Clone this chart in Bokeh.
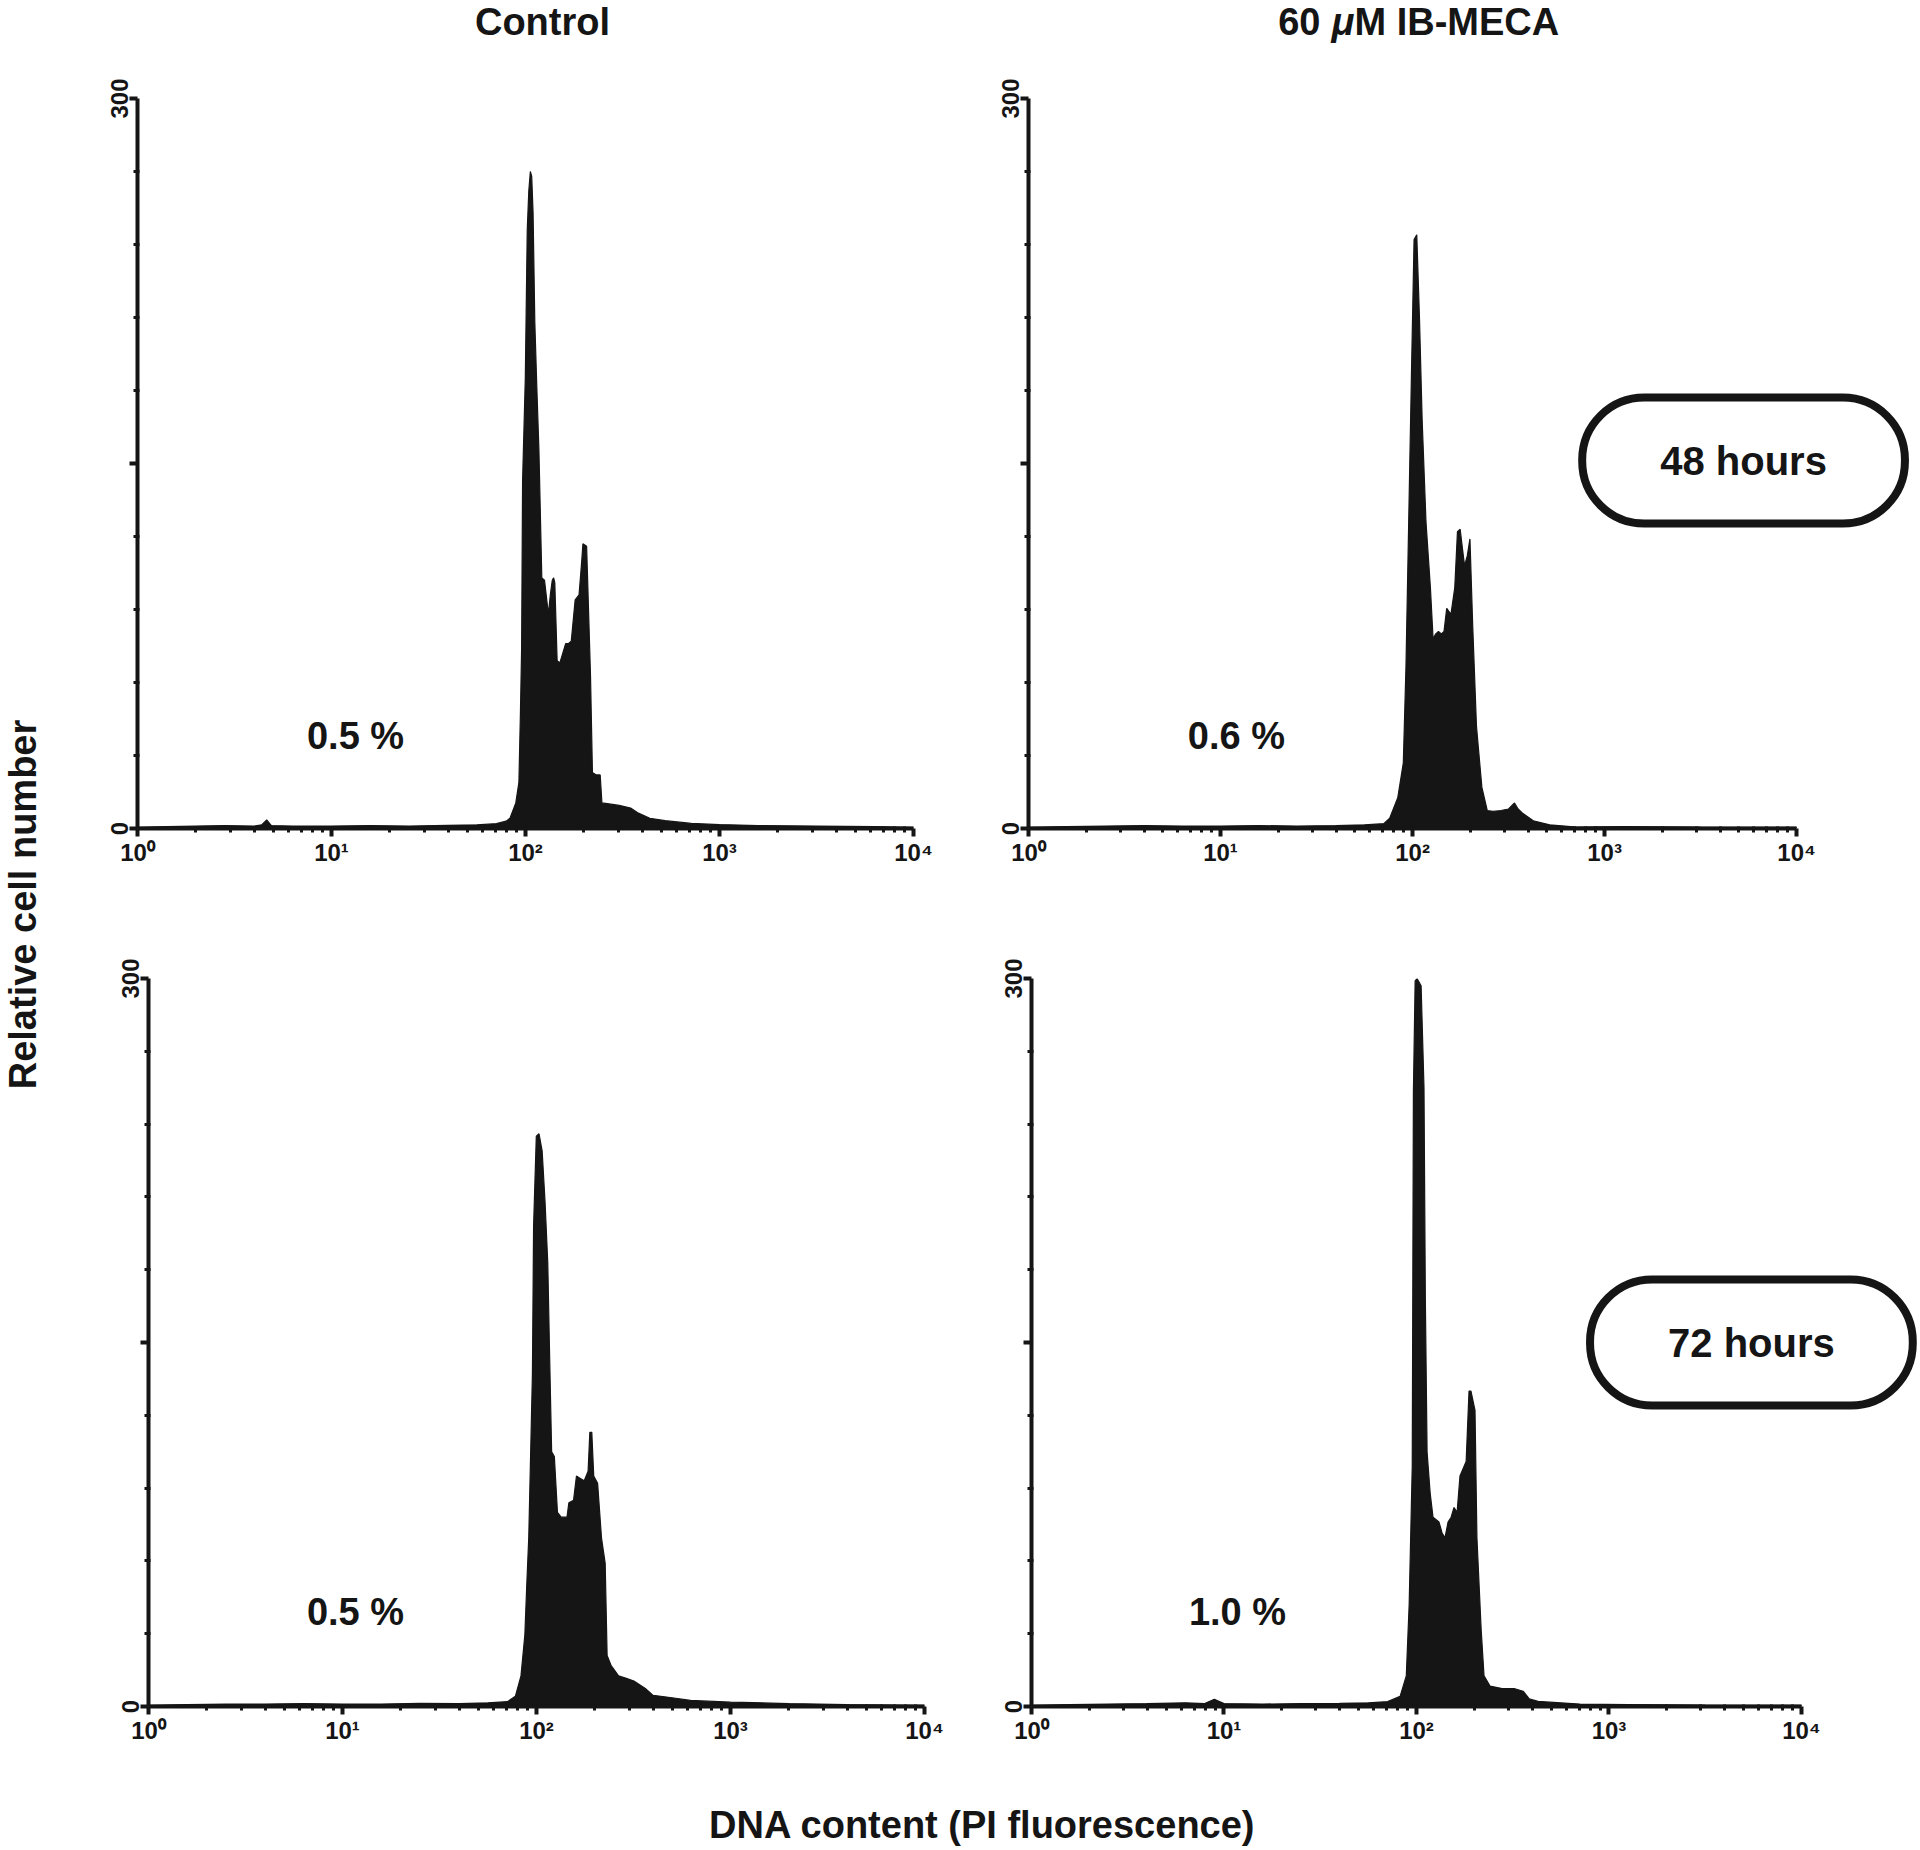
import math
from bokeh.plotting import figure
from bokeh.models import Range1d, FixedTicker, Label
from bokeh.layouts import row, column
from bokeh.embed import file_html
from bokeh.resources import INLINE

# ---------------- data ----------------
col_titles = ["Control", "60", "\u03bc", "M IB-MECA"]
time_labels = ["48 hours", "72 hours"]
pct_labels = ["0.5 %", "0.6 %", "0.5 %", "1.0 %"]
x_tick_labels = {1: "10\u2070", 10: "10\u00b9", 100: "10\u00b2", 1000: "10\u00b3", 10000: "10\u2074"}
y_tick_labels = {0: "0", 150: "", 300: "300"}
y_label = "Relative cell number"
x_label = "DNA content (PI fluorescence)"

# log10(PI fluorescence) positions and relative cell counts (0-300 scale)
tl_log = [0.00, 0.15, 0.30, 0.45, 0.60, 0.64, 0.666, 0.69, 0.80, 1.00, 1.20, 1.40, 1.60, 1.75, 1.85, 1.90,
          1.920, 1.950, 1.966, 1.974, 1.980, 1.985, 1.999, 2.009, 2.017, 2.025, 2.032, 2.039,
          2.048, 2.058, 2.069, 2.084, 2.098, 2.108, 2.118, 2.128, 2.138, 2.145, 2.151, 2.163,
          2.177, 2.192, 2.207, 2.222, 2.236, 2.256, 2.276, 2.290, 2.296, 2.315, 2.335, 2.345,
          2.365, 2.385, 2.394, 2.440, 2.483, 2.542, 2.582, 2.641, 2.720, 2.855, 3.00, 3.20,
          3.50, 3.80, 4.00]
tl_cnt = [0.5, 0.8, 1.0, 1.2, 1.0, 1.5, 3.5, 1.2, 1.0, 1.0, 1.2, 1.0, 1.3, 1.5, 2.0, 3.0,
          4.2, 10.5, 19, 48, 74, 143, 185, 246, 262, 270, 268, 253,
          208, 182, 156, 103, 102, 95, 88, 96, 102, 103, 101, 69,
          68, 72, 76, 76, 77, 94, 96, 110, 117, 116, 63, 23,
          22, 22, 10.5, 10, 9.5, 8.4, 6.3, 4.2, 3.2, 2.1, 1.6, 1.2,
          1.0, 0.8, 0.5]

tr_log = [0.00, 0.20, 0.40, 0.60, 0.80, 1.00, 1.20, 1.40, 1.60, 1.75, 1.85,
          1.881, 1.923, 1.952, 1.966, 1.980, 1.994, 2.008, 2.022, 2.036, 2.050, 2.070,
          2.093, 2.107, 2.121, 2.135, 2.150, 2.164, 2.178, 2.200, 2.220, 2.234, 2.248,
          2.260, 2.271, 2.285, 2.299, 2.313, 2.333, 2.361, 2.389, 2.420, 2.460, 2.500,
          2.531, 2.550, 2.573, 2.629, 2.714, 2.855, 3.10, 3.50, 4.00]
tr_cnt = [0.5, 0.8, 1.0, 1.2, 1.0, 1.0, 1.2, 1.0, 1.2, 1.5, 2.0,
          4.2, 12.6, 27, 67, 126, 185, 242, 244, 210, 168, 126,
          99, 78, 80, 81, 80, 81, 90.5, 88, 99, 122, 123,
          115, 108, 112, 119, 84, 42, 17, 7.4, 7.0, 7.4, 8.0,
          10.5, 8.0, 6.3, 3.2, 1.5, 0.6, 0.8, 0.6, 0.5]

bl_log = [0.00, 0.20, 0.40, 0.60, 0.80, 1.00, 1.20, 1.40, 1.60, 1.75, 1.85,
          1.891, 1.920, 1.940, 1.950, 1.960, 1.970, 1.979, 1.985, 1.999, 2.013, 2.029,
          2.044, 2.058, 2.068, 2.078, 2.092, 2.108, 2.127, 2.157, 2.167, 2.191, 2.206,
          2.226, 2.246, 2.266, 2.275, 2.285, 2.295, 2.315, 2.335, 2.354, 2.364, 2.384,
          2.423, 2.463, 2.502, 2.561, 2.601, 2.699, 2.794, 3.00, 3.30, 3.60, 4.00]
bl_cnt = [0.5, 0.8, 1.0, 1.0, 1.2, 1.0, 1.0, 1.3, 1.2, 1.5, 2.0,
          4.2, 12.6, 29.5, 50.5, 69.5, 105, 137, 198, 235, 236, 229,
          208, 183, 143, 105, 103, 80, 78, 78, 84, 85, 95,
          94, 93, 97, 113, 113, 95, 92, 69.5, 59, 21, 17,
          12.6, 11.6, 10.5, 7.4, 4.6, 3.6, 2.5, 1.8, 1.2, 0.8, 0.5]

br_log = [0.00, 0.20, 0.40, 0.60, 0.80, 0.90, 0.95, 1.00, 1.20, 1.40, 1.60, 1.75, 1.85,
          1.915, 1.947, 1.962, 1.978, 1.984, 1.993, 2.003, 2.024, 2.039, 2.046, 2.055,
          2.071, 2.086, 2.117, 2.133, 2.148, 2.164, 2.180, 2.195, 2.211, 2.226, 2.258,
          2.273, 2.283, 2.304, 2.314, 2.336, 2.351, 2.382, 2.445, 2.507, 2.554, 2.585,
          2.632, 2.849, 3.10, 3.50, 4.00]
br_cnt = [0.5, 0.8, 1.0, 1.2, 1.5, 1.2, 3.0, 1.2, 1.0, 1.2, 1.3, 1.5, 2.0,
          4.2, 12.6, 42, 99, 253, 299, 300, 297, 255, 168, 105,
          88, 78, 76, 71.5, 69.5, 76, 78, 82, 80, 95, 101,
          130, 130, 122, 69.5, 31.6, 12.6, 8.4, 7.4, 7.4, 6.3, 3.2,
          2.1, 1.0, 0.8, 0.6, 0.5]

# ---------------- styling ----------------
INK = "#151515"
FONT = "Liberation Sans"
FS = "38px"


def make_panel(w, h, bl, br, bt, bb, logs, counts, x_end=10000):
    p = figure(width=w, height=h, x_axis_type="log",
               x_range=Range1d(1, x_end), y_range=Range1d(0, 300),
               output_backend="svg", toolbar_location=None,
               min_border_left=bl, min_border_right=br,
               min_border_top=bt, min_border_bottom=bb)
    p.grid.visible = False
    p.outline_line_color = None
    p.background_fill_color = "white"
    p.border_fill_color = "white"
    xs = [10 ** v for v in logs]
    p.varea(x=xs, y1=0, y2=counts, fill_color=INK)
    p.line(xs, counts, line_color=INK, line_width=1.2)

    xa = p.xaxis[0]
    xa.ticker = FixedTicker(ticks=[1, 10, 100, 1000, 10000],
                            minor_ticks=[m * 10 ** k for k in range(4) for m in range(2, 10)])
    xa.major_label_overrides = x_tick_labels
    xa.bounds = (1, 10000)
    ya = p.yaxis[0]
    ya.ticker = FixedTicker(ticks=[0, 150, 300], minor_ticks=[30, 60, 90, 120, 180, 210, 240, 270])
    ya.major_label_overrides = y_tick_labels
    ya.major_label_orientation = "vertical"
    for ax in (xa, ya):
        ax.axis_line_color = INK
        ax.axis_line_width = 4
        ax.major_tick_line_color = INK
        ax.major_tick_line_width = 4
        ax.minor_tick_line_color = INK
        ax.minor_tick_line_width = 3
        ax.major_tick_out = 8
        ax.major_tick_in = 0
        ax.minor_tick_out = 4
        ax.minor_tick_in = 2
        ax.major_label_standoff = 2
        ax.major_label_text_font = FONT
        ax.major_label_text_font_style = "bold"
        ax.major_label_text_font_size = "24px"
        ax.major_label_text_color = INK
    return p


def add_text(p, dec, y, text, align="center", style="bold", size=FS, x_offset=0, **kw):
    p.add_layout(Label(x=10 ** dec, y=y, text=text, text_align=align, text_baseline="middle",
                       text_font=FONT, text_font_style=style, text_font_size=size,
                       text_color=INK, x_offset=x_offset, **kw))


def text_strip(w, h):
    p = figure(width=w, height=h, x_range=Range1d(0, w), y_range=Range1d(0, h),
               output_backend="svg", toolbar_location=None, x_axis_location=None,
               y_axis_location=None, min_border=0)
    p.grid.visible = False
    p.outline_line_color = None
    return p


def strip_text(p, x, y, text, align="center", style="bold", angle=0.0, x_offset=0):
    p.add_layout(Label(x=x, y=y, text=text, text_align=align, text_baseline="middle",
                       text_font=FONT, text_font_style=style, text_font_size=FS,
                       text_color=INK, angle=angle, x_offset=x_offset))


# panels (page has no margin: content starts at the window's top-left corner)
tl = make_panel(922, 850, 89, 57, 48, 72, tl_log, tl_cnt)
tr = make_panel(948, 850, 58, 0, 48, 72, tr_log, tr_cnt, x_end=10 ** 4.635)
bl = make_panel(922, 890, 100, 46, 78, 84, bl_log, bl_cnt)
br = make_panel(948, 890, 61, 0, 78, 84, br_log, br_cnt, x_end=10 ** 4.608)

# percentages
add_text(tl, 1.124, 38.2, pct_labels[0])
add_text(tr, 1.083, 38.2, pct_labels[1])
add_text(bl, 1.067, 39.0, pct_labels[2])
add_text(br, 1.070, 39.0, pct_labels[3])

# time boxes
box_kw = dict(border_line_color=INK, border_line_width=8, background_fill_color="white",
              border_radius=62, padding=dict(left=78, right=78, top=41, bottom=41))
add_text(tr, 3.724, 151.2, time_labels[0], size="40px", **box_kw)
add_text(br, 3.740, 150.0, time_labels[1], size="40px", **box_kw)

# column titles strip
top = text_strip(1918, 50)
strip_text(top, 542, 29, col_titles[0])
strip_text(top, 1331, 29, col_titles[1], align="right", x_offset=-11)
strip_text(top, 1331, 29, col_titles[2], align="left", style="bold italic")
strip_text(top, 1331, 29, col_titles[3], align="left", x_offset=23)

# shared axis titles
ylab = text_strip(48, 1740)
strip_text(ylab, 22, 886, y_label, angle=math.pi / 2)

xlab = text_strip(1918, 58)
strip_text(xlab, 982, 24, x_label)

grid = column(row(tl, tr), row(bl, br))
layout = column(top, row(ylab, grid), xlab)

open("out.html", "w").write(file_html(layout, INLINE))
